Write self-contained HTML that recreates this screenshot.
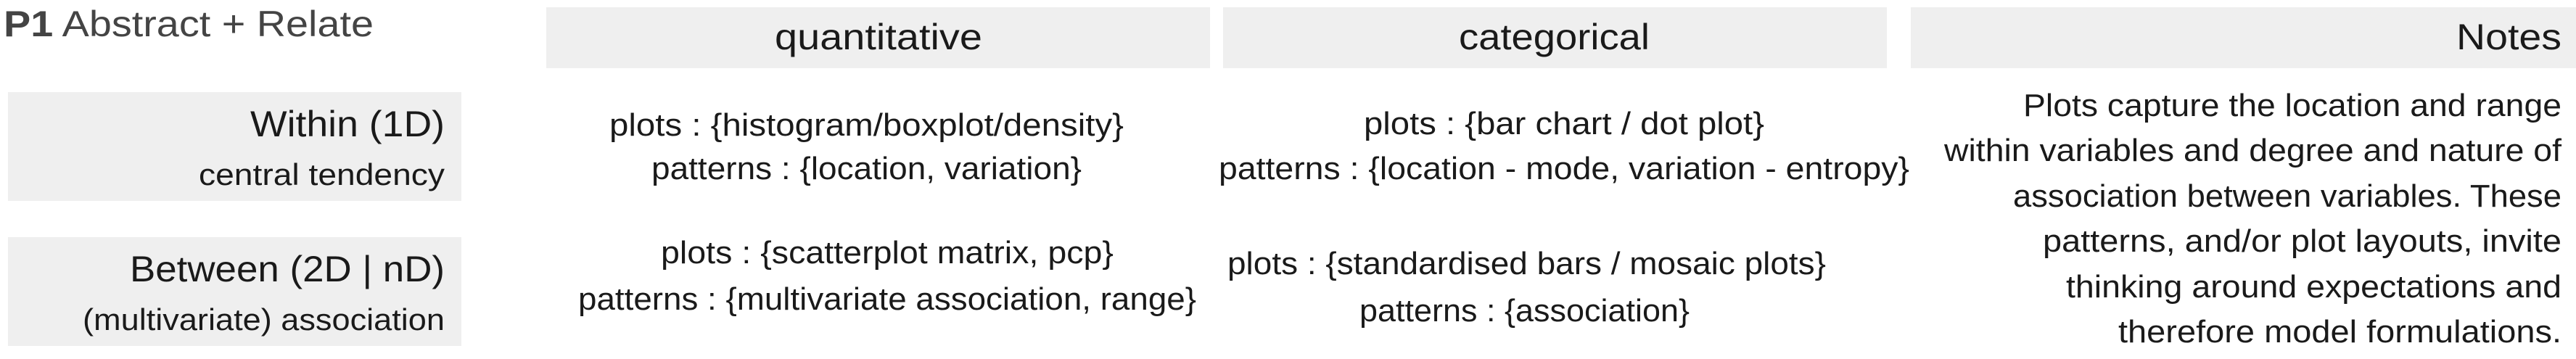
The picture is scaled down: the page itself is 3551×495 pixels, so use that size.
<!DOCTYPE html>
<html><head><meta charset="utf-8"><style>
html,body{margin:0;padding:0;background:#fff;}
svg{display:block;}
text{font-family:"Liberation Sans",sans-serif;fill:#1a1a1a;}
</style></head><body>
<svg width="3551" height="495" viewBox="0 0 3551 495" xmlns="http://www.w3.org/2000/svg">
<rect x="753" y="10" width="915" height="84" fill="#efefef"/>
<rect x="1686" y="10" width="915" height="84" fill="#efefef"/>
<rect x="2634" y="10" width="917" height="84" fill="#efefef"/>
<rect x="11" y="127" width="625" height="150" fill="#efefef"/>
<rect x="11" y="327" width="625" height="150" fill="#efefef"/>

<text x="5" y="50" font-size="50" style="fill:#444" textLength="510" lengthAdjust="spacingAndGlyphs"><tspan font-weight="bold">P1</tspan> Abstract + Relate</text>

<text x="1068" y="68" font-size="50" textLength="286" lengthAdjust="spacingAndGlyphs">quantitative</text>
<text x="2011" y="68" font-size="50" textLength="263" lengthAdjust="spacingAndGlyphs">categorical</text>
<text x="3386" y="68" font-size="50" textLength="145" lengthAdjust="spacingAndGlyphs">Notes</text>

<text x="345" y="188" font-size="50" textLength="268" lengthAdjust="spacingAndGlyphs">Within (1D)</text>
<text x="274" y="255" font-size="42" textLength="339" lengthAdjust="spacingAndGlyphs">central tendency</text>
<text x="179" y="388" font-size="50" textLength="434" lengthAdjust="spacingAndGlyphs">Between (2D | nD)</text>
<text x="114" y="455" font-size="42" textLength="499" lengthAdjust="spacingAndGlyphs">(multivariate) association</text>

<text x="840" y="187" font-size="44" textLength="709" lengthAdjust="spacingAndGlyphs">plots : {histogram/boxplot/density}</text>
<text x="898" y="247" font-size="44" textLength="593" lengthAdjust="spacingAndGlyphs">patterns : {location, variation}</text>
<text x="911" y="363" font-size="44" textLength="624" lengthAdjust="spacingAndGlyphs">plots : {scatterplot matrix, pcp}</text>
<text x="797" y="427" font-size="44" textLength="852" lengthAdjust="spacingAndGlyphs">patterns : {multivariate association, range}</text>

<text x="1880" y="185" font-size="44" textLength="552" lengthAdjust="spacingAndGlyphs">plots : {bar chart / dot plot}</text>
<text x="1680" y="247" font-size="44" textLength="952" lengthAdjust="spacingAndGlyphs">patterns : {location - mode, variation - entropy}</text>
<text x="1692" y="378" font-size="44" textLength="825" lengthAdjust="spacingAndGlyphs">plots : {standardised bars / mosaic plots}</text>
<text x="1874" y="443" font-size="44" textLength="455" lengthAdjust="spacingAndGlyphs">patterns : {association}</text>

<text x="2789" y="160" font-size="44" textLength="742" lengthAdjust="spacingAndGlyphs">Plots capture the location and range</text>
<text x="2680" y="222" font-size="44" textLength="851" lengthAdjust="spacingAndGlyphs">within variables and degree and nature of</text>
<text x="2775" y="285" font-size="44" textLength="756" lengthAdjust="spacingAndGlyphs">association between variables. These</text>
<text x="2816" y="347" font-size="44" textLength="715" lengthAdjust="spacingAndGlyphs">patterns, and/or plot layouts, invite</text>
<text x="2848" y="410" font-size="44" textLength="683" lengthAdjust="spacingAndGlyphs">thinking around expectations and</text>
<text x="2920" y="472" font-size="44" textLength="611" lengthAdjust="spacingAndGlyphs">therefore model formulations.</text>
</svg>
</body></html>
